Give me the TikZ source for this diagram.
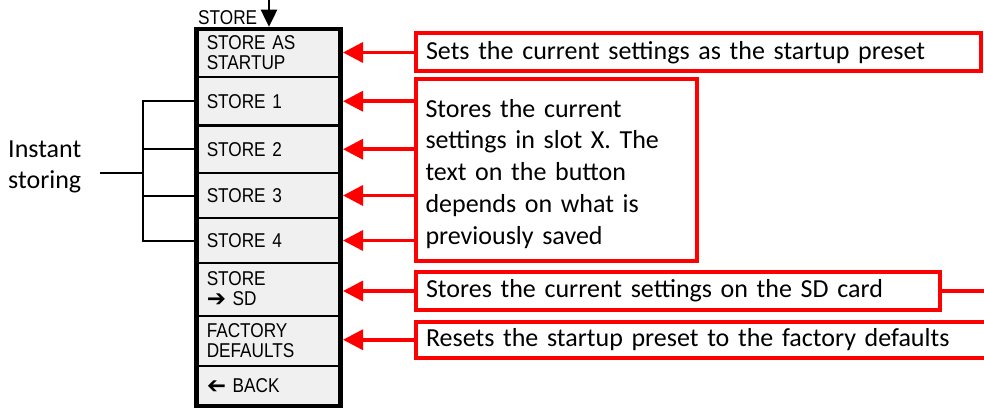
\documentclass[tikz,border=0pt]{standalone}
\usepackage{fontspec}
\setmainfont{Carlito}
\newfontfamily\btnfont[FakeStretch=0.86]{Liberation Sans}
\newfontfamily\symfont{DejaVu Sans}
\usetikzlibrary{arrows.meta}
\definecolor{btngray}{HTML}{F0F0F0}
\definecolor{myred}{HTML}{FF0000}
\newcommand{\rarr}{\raisebox{-1pt}{\symfont\fontsize{23}{20}\selectfont ➔}}
\newcommand{\larr}{\raisebox{-1pt}{\reflectbox{\symfont\fontsize{23}{20}\selectfont ➔}}}
\begin{document}
\begin{tikzpicture}[x=1pt,y=-1pt,
  btn/.style={draw=black, line width=2.5pt, fill=btngray, rectangle, inner xsep=10.5pt, inner ysep=0pt, outer sep=0pt, text width=123.5pt, align=left, font=\btnfont\fontsize{20}{20}\selectfont},
  note/.style={draw=myred, line width=4pt, rectangle, outer sep=0pt, inner xsep=10pt, inner ysep=0pt, align=left, anchor=north west, font=\fontsize{26}{31.75}\selectfont},
  redarrow/.style={draw=myred, line width=3.5pt, -{Triangle[length=20pt,width=20pt]}, shorten >=2.25pt},
  blk/.style={draw=black, line width=2pt}
]
\useasboundingbox (0,0) rectangle (984,414);
\clip (0,0) rectangle (984,414);

% bracket
\coordinate (j) at (143,173);
\coordinate (stem) at (100,173);
\node[font=\fontsize{26}{31.75}\selectfont, align=left, anchor=west, inner sep=0pt] (inst) at (8,167) {Instant\\storing};

% buttons
\node[btn, minimum height=48pt]   (s0) at (268.5,53)     {STORE AS\\STARTUP};
\node[btn, minimum height=48.5pt] (s1) at (268.5,101.25) {STORE 1};
\node[btn, minimum height=47.5pt] (s2) at (268.5,149.25) {STORE 2};
\node[btn, minimum height=45pt]   (s3) at (268.5,195.5)  {STORE 3};
\node[btn, minimum height=45pt]   (s4) at (268.5,240.5)  {STORE 4};
\node[btn, minimum height=53pt]   (s5) at (268.5,289.5)  {STORE\\\rarr\ SD};
\node[btn, minimum height=50pt]   (s6) at (268.5,341)    {FACTORY\\DEFAULTS};
\node[btn, minimum height=40pt]   (s7) at (268.5,386)    {\larr\ BACK};

\draw[blk] (s1.west) -- (s1.west -| j) -- (s4.west -| j) -- (s4.west);
\draw[blk] (s2.west) -- (s2.west -| j);
\draw[blk] (s3.west) -- (s3.west -| j);
\draw[blk] (stem) -- (j);

% frame
\node[draw=black, line width=4.5pt, minimum width=144pt, minimum height=377pt, inner sep=0pt, outer sep=0pt] (menu) at (268.5,217.5) {};

% top label and arrow
\node[font=\btnfont\fontsize{20}{20}\selectfont, anchor=base west, inner sep=0pt] (storelbl) at (198,25) {STORE};
\coordinate (topin) at (269,-5);
\draw[line width=2.5pt, -{Triangle[length=17pt,width=16pt]}, shorten >=2.25pt] (topin) -- (topin |- menu.north);

% notes
\node[note, minimum width=564.5pt, minimum height=38pt, text width=544.5pt] (A) at (416,33.5) {Sets the current settings as the startup preset};
\node[note, minimum width=281pt, minimum height=182pt, text width=261pt] (B) at (415.5,79) {\rule{0pt}{25.5pt}Stores the current\\settings in slot X. The\\text on the button\\depends on what is\\previously saved};
\node[note, minimum width=523.5pt, minimum height=38pt, text width=503.5pt] (C) at (416,272) {Stores the current settings on the SD card};
\node[note, minimum width=584pt, minimum height=36.5pt, text width=564pt] (D) at (416,321.5) {Resets the startup preset to the factory defaults};
\coordinate (offC) at (1000,291);
\draw[myred, line width=3.5pt] (C.east) -- (offC);

% arrows
\draw[redarrow] (A.west) -- (A.west -| s0.east);
\draw[redarrow] (B.west |- s1.east) -- (s1.east);
\draw[redarrow] (B.west |- s2.east) -- (s2.east);
\draw[redarrow] (B.west |- s3.east) -- (s3.east);
\draw[redarrow] (B.west |- s4.east) -- (s4.east);
\draw[redarrow] (C.west) -- (C.west -| s5.east);
\draw[redarrow] (D.west) -- (D.west -| s6.east);
\end{tikzpicture}
\end{document}
